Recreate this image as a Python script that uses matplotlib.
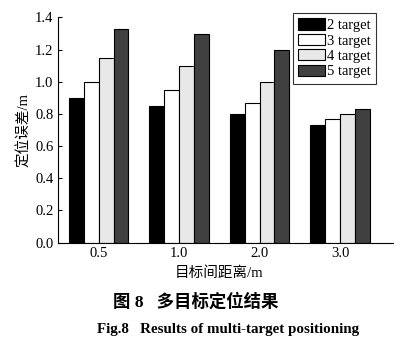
import numpy as np
import matplotlib.pyplot as plt

plt.rcParams['font.family'] = ['Liberation Serif', 'Noto Sans CJK SC']

# data
distances = ['0.5', '1.0', '2.0', '3.0']
series_names = ['2 target', '3 target', '4 target', '5 target']
err_2 = [0.90, 0.85, 0.80, 0.73]
err_3 = [1.00, 0.95, 0.87, 0.77]
err_4 = [1.15, 1.10, 1.00, 0.80]
err_5 = [1.33, 1.30, 1.20, 0.83]
colors = ['#000000', '#ffffff', '#e8e8e8', '#404040']

fig = plt.figure(figsize=(4.0, 3.49), dpi=100)
ax = fig.add_axes([0.144, 0.305, 0.839, 0.645])

x = np.arange(len(distances))
w = 0.185
for i, (vals, name, c) in enumerate(zip([err_2, err_3, err_4, err_5], series_names, colors)):
    ax.bar(x + (i - 1.5) * w, vals, width=w, color=c, edgecolor='black',
           linewidth=0.8, label=name)

ax.set_xlim(-0.51, 3.66)
ax.set_ylim(0, 1.4)
ax.set_yticks(np.arange(0, 1.41, 0.2))
ax.set_yticklabels([f'{v:.1f}' for v in np.arange(0, 1.41, 0.2)])
ax.set_xticks(x)
ax.set_xticklabels(distances)
ax.tick_params(axis='y', direction='in', length=3, labelsize=10.5, pad=3)
ax.tick_params(axis='x', length=0, labelsize=10.5, pad=3)
ax.spines['top'].set_visible(False)
ax.spines['right'].set_visible(False)
ax.set_ylabel('定位误差/m', fontsize=10.5, labelpad=3)
ax.set_xlabel('目标间距离/m', fontsize=10.5, labelpad=1)
ax.xaxis.set_label_coords(0.482, -0.105)

leg = ax.legend(loc='upper right', bbox_to_anchor=(0.949, 1.02), borderaxespad=0,
                fontsize=10.5, frameon=True, fancybox=False, edgecolor='black',
                handlelength=1.85, handleheight=0.8, handletextpad=0.1,
                labelspacing=0.12, borderpad=0.38)
leg.get_frame().set_linewidth(0.8)

fig.text(113 / 400, 1 - 302 / 349, '图 8   多目标定位结果', fontsize=12.5,
         fontweight='bold', ha='left', va='center')
fig.text(97 / 400, 1 - 330 / 349, 'Fig.8   Results of multi-target positioning',
         fontsize=10.8, fontweight='bold', ha='left', va='center')

fig.savefig('out.png', dpi=100)
